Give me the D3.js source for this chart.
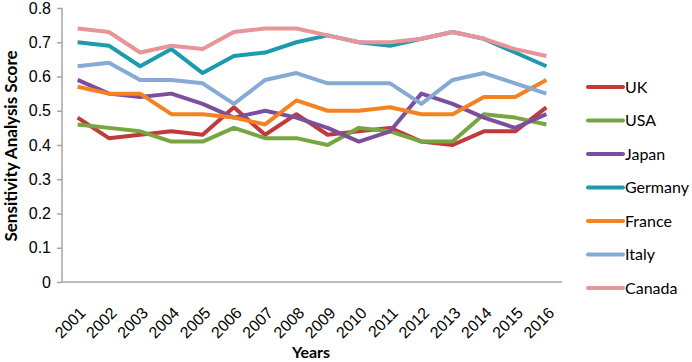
<!DOCTYPE html>
<html>
<head>
<meta charset="utf-8">
<script src="https://cdn.jsdelivr.net/npm/d3@7"></script>
<style>
  body { margin: 0; background: #fff; }
  svg { display: block; font-family: Lato, "Open Sans", sans-serif; }
  .axis path, .axis line { stroke: #a6a6a6; stroke-width: 1.5; }
  .axis text { fill: #000; font-size: 16px; }
</style>
</head>
<body>
<svg id="chart" width="692" height="362"></svg>
<script>
// data
const years = ['2001','2002','2003','2004','2005','2006','2007','2008',
               '2009','2010','2011','2012','2013','2014','2015','2016'];
const countries = ['UK','USA','Japan','Germany','France','Italy','Canada'];
const colors = ['#c0393b','#77a540','#7b4f9e','#1c9aae','#f58220','#86a9d6','#e8959a'];
const yTicks = [0,0.1,0.2,0.3,0.4,0.5,0.6,0.7,0.8];

const uk      = [0.48,0.42,0.43,0.44,0.43,0.51,0.43,0.49,0.43,0.44,0.45,0.41,0.40,0.44,0.44,0.51];
const usa     = [0.46,0.45,0.44,0.41,0.41,0.45,0.42,0.42,0.40,0.45,0.44,0.41,0.41,0.49,0.48,0.46];
const japan   = [0.59,0.55,0.54,0.55,0.52,0.48,0.50,0.48,0.45,0.41,0.44,0.55,0.52,0.48,0.45,0.49];
const germany = [0.70,0.69,0.63,0.68,0.61,0.66,0.67,0.70,0.72,0.70,0.69,0.71,0.73,0.71,0.67,0.63];
const france  = [0.57,0.55,0.55,0.49,0.49,0.48,0.46,0.53,0.50,0.50,0.51,0.49,0.49,0.54,0.54,0.59];
const italy   = [0.63,0.64,0.59,0.59,0.58,0.52,0.59,0.61,0.58,0.58,0.58,0.52,0.59,0.61,0.58,0.55];
const canada  = [0.74,0.73,0.67,0.69,0.68,0.73,0.74,0.74,0.72,0.70,0.70,0.71,0.73,0.71,0.68,0.66];

const series = [uk, usa, japan, germany, france, italy, canada];

let svg = d3.select('#chart');
let margin = {left: 62, right: 130, top: 8, bottom: 80};
let width = 692, height = 362;

let x = d3.scaleBand().domain(years).range([margin.left, width - margin.right]);
let y = d3.scaleLinear().domain([0, 0.8]).range([height - margin.bottom, margin.top]);

// axes
svg.append('g')
   .attr('class','axis')
   .attr('transform','translate(' + margin.left + ',0)')
   .call(d3.axisLeft(y).tickValues(yTicks).tickSize(5).tickPadding(6)
           .tickFormat(d => d === 0 ? '0' : d3.format('.1f')(d)))
   .call(g => g.select('.domain').attr('d','M0,' + y(0.8) + 'V' + y(0)));

let xAxis = svg.append('g')
   .attr('class','axis')
   .attr('transform','translate(0,' + y(0) + ')')
   .call(d3.axisBottom(x).tickSize(0).tickPadding(0));
xAxis.select('.domain').attr('d','M' + margin.left + ',0H' + (width - margin.right));
xAxis.selectAll('.tick text')
   .attr('text-anchor','end')
   .attr('dy','0.35em')
   .attr('transform','translate(5,28) rotate(-45)');

// axis titles
svg.append('text')
   .attr('transform','translate(17,' + 146 + ') rotate(-90)')
   .attr('text-anchor','middle')
   .style('font-weight','bold').style('font-size','17px')
   .text('Sensitivity Analysis Score');

svg.append('text')
   .attr('x', 311)
   .attr('y', 358)
   .attr('text-anchor','middle')
   .style('font-weight','bold').style('font-size','16px')
   .text('Years');

// lines
let line = d3.line()
   .x((d,i) => x(years[i]) + x.bandwidth() / 2)
   .y(d => y(d));

svg.append('g').selectAll('path')
   .data(series)
   .enter()
   .append('path')
   .attr('d', line)
   .attr('fill','none')
   .attr('stroke',(d,i) => colors[i])
   .attr('stroke-width',4)
   .attr('stroke-linejoin','round');

// legend
let legend = svg.append('g').selectAll('g')
   .data(countries)
   .enter()
   .append('g')
   .attr('transform',(d,i) => 'translate(588,' + (87 + i * 33.5) + ')');

legend.append('line')
   .attr('x1',0).attr('x2',35)
   .attr('stroke',(d,i) => colors[i])
   .attr('stroke-width',4)
   .attr('stroke-linecap','round');

legend.append('text')
   .attr('x',37)
   .attr('dy','0.35em')
   .style('font-size','16px')
   .text(d => d);
</script>
</body>
</html>
